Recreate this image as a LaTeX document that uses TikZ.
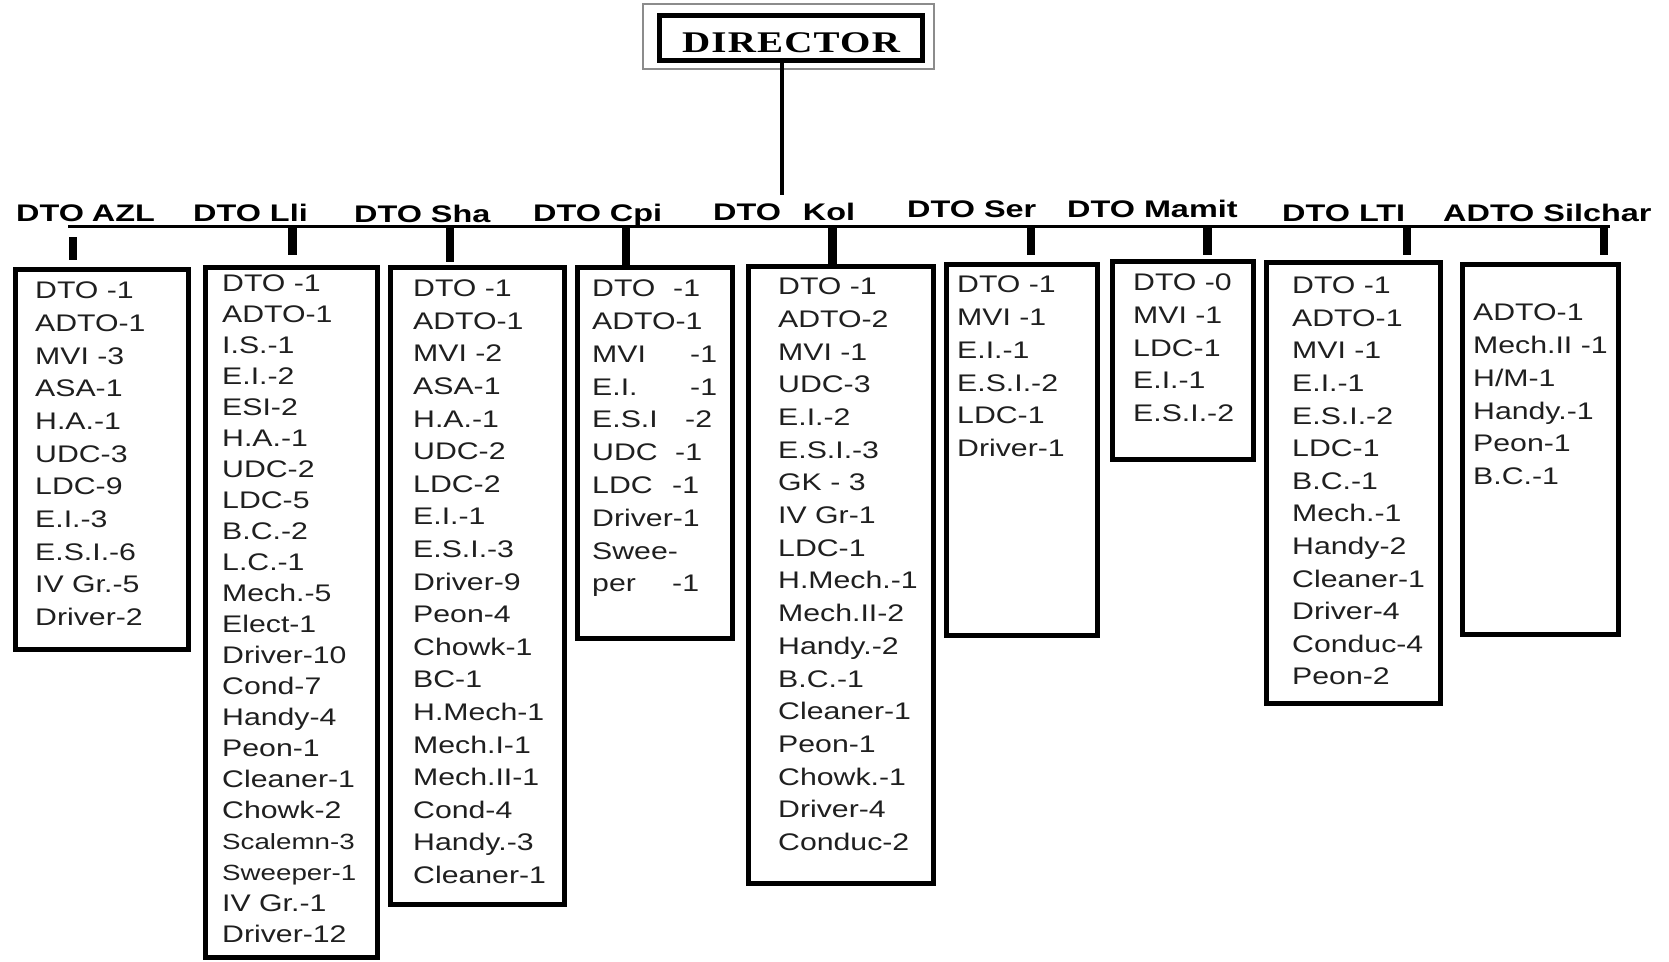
\documentclass[tikz,border=0pt]{standalone}
\usepackage{fontspec}
\setmainfont{Liberation Sans}
\newfontfamily\boxfont[FakeStretch=1.26]{Liberation Sans}
\newfontfamily\lblfont[FakeStretch=1.35]{Liberation Sans}
\newfontfamily\dirfont[FakeStretch=1.3,LetterSpace=4]{Liberation Serif}
\begin{document}
\begin{tikzpicture}[x=1pt,y=-1pt,
  box/.style={draw=black, line width=5pt, inner sep=0pt, rectangle},
  item/.style={font=\boxfont\fontsize{24}{24}\selectfont, text=black!88, anchor=base west, inner sep=0pt},
  smallitem/.style={item, font=\boxfont\fontsize{22}{22}\selectfont},
  lbl/.style={font=\lblfont\bfseries\fontsize{24}{24}\selectfont, anchor=base west, inner sep=0pt},
  barline/.style={line width=3.5pt},
  stub/.style={line width=8.5pt},
  conn/.style={line width=3.5pt}]
\useasboundingbox (0,0) rectangle (1669,961);
% director
\node[draw=black!45, line width=1.5pt, minimum width=291pt, minimum height=65pt, inner sep=0pt] (dirframe) at (788.5,36.5) {};
\node[box, minimum width=263pt, minimum height=45pt, text height=28pt, text depth=0pt,
      font=\dirfont\bfseries\fontsize{30}{30}\selectfont] (dir) at (791,38) {DIRECTOR};
% labels
\node[lbl] (lAZL) at (16,221) {DTO\hspace{8pt}AZL};
\node[lbl] (lLli) at (193,221) {DTO Lli};
\node[lbl] (lSha) at (354,222) {DTO Sha};
\node[lbl] (lCpi) at (533,221) {DTO Cpi};
\node[lbl] (lKol) at (713,220) {DTO\hspace{22pt}Kol};
\node[lbl] (lSer) at (907,217) {DTO Ser};
\node[lbl] (lMam) at (1067,217) {DTO Mamit};
\node[lbl] (lLTI) at (1282,221) {DTO LTI};
\node[lbl] (lSil) at (1443,221) {ADTO Silchar};
% director connector
\coordinate (kolgap) at (782,195);
\draw[conn] (dir.south -| kolgap) -- (kolgap);
% bar
\coordinate (barL) at (68,226.5);
\coordinate (barR) at (1610,226.5);
\draw[barline] (barL) -- (barR);
% boxes
\node[box, minimum width=173pt, minimum height=380pt] (b1) at (102,459.5) {};
\node[box, minimum width=172pt, minimum height=690pt] (b2) at (291.5,612.5) {};
\node[box, minimum width=174pt, minimum height=637pt] (b3) at (477.5,586) {};
\node[box, minimum width=155pt, minimum height=371pt] (b4) at (655,453) {};
\node[box, minimum width=185pt, minimum height=617pt] (b5) at (841,575) {};
\node[box, minimum width=151pt, minimum height=371pt] (b6) at (1022,450) {};
\node[box, minimum width=141pt, minimum height=198pt] (b7) at (1183,360.5) {};
\node[box, minimum width=174pt, minimum height=441pt] (b8) at (1353.5,483) {};
\node[box, minimum width=156pt, minimum height=370pt] (b9) at (1540.5,449.5) {};
% stubs
\coordinate (s1a) at (73,237);   \coordinate (s1b) at (73,260);
\coordinate (s2a) at (292.5,226.5); \coordinate (s2b) at (292.5,255);
\coordinate (s3a) at (450,226.5); \coordinate (s3b) at (450,262);
\coordinate (s4a) at (626,226.5);
\coordinate (s5a) at (832.5,226.5);
\coordinate (s6a) at (1031,226.5); \coordinate (s6b) at (1031,255);
\coordinate (s7a) at (1207.5,226.5); \coordinate (s7b) at (1207.5,255);
\coordinate (s8a) at (1407,226.5); \coordinate (s8b) at (1407,255);
\coordinate (s9a) at (1604,226.5); \coordinate (s9b) at (1604,255);
\draw[stub] (s1a) -- (s1b);
\draw[stub] (s2a) -- (s2b);
\draw[stub] (s3a) -- (s3b);
\draw[stub] (s4a) -- (s4a |- b4.north);
\draw[stub] (s5a) -- (s5a |- b5.north);
\draw[stub] (s6a) -- (s6b);
\draw[stub] (s7a) -- (s7b);
\draw[stub] (s8a) -- (s8b);
\draw[stub] (s9a) -- (s9b);
% box 1
\foreach \t [count=\i] in {DTO -1,ADTO-1,MVI -3,ASA-1,H.A.-1,UDC-3,LDC-9,E.I.-3,E.S.I.-6,IV Gr.-5,Driver-2}
  \node[item] (a\i) at (35,{298.6+(\i-1)*32.7}) {\t};
% box 2
\foreach \t [count=\i] in {DTO -1,ADTO-1,I.S.-1,E.I.-2,ESI-2,H.A.-1,UDC-2,LDC-5,B.C.-2,L.C.-1,Mech.-5,Elect-1,Driver-10,Cond-7,Handy-4,Peon-1,Cleaner-1,Chowk-2}
  \node[item] (bb\i) at (222,{291.6+(\i-1)*31.0}) {\t};
\node[smallitem] (bb19) at (222,{291.6+18*31.0}) {Scalemn-3};
\node[smallitem] (bb20) at (222,{291.6+19*31.0}) {Sweeper-1};
\node[item] (bb21) at (222,{291.6+20*31.0}) {IV Gr.-1};
\node[item] (bb22) at (222,{291.6+21*31.0}) {Driver-12};
% box 3
\foreach \t [count=\i] in {DTO -1,ADTO-1,MVI -2,ASA-1,H.A.-1,UDC-2,LDC-2,E.I.-1,E.S.I.-3,Driver-9,Peon-4,Chowk-1,BC-1,H.Mech-1,Mech.I-1,Mech.II-1,Cond-4,Handy.-3,Cleaner-1}
  \node[item] (c\i) at (413,{296.6+(\i-1)*32.6}) {\t};
% box 4
\node[item] (d1) at (592,296.6) {DTO};      \node[item] (d1n) at (673,296.6) {-1};
\node[item] (d2) at (592,329.4) {ADTO-1};
\node[item] (d3) at (592,362.2) {MVI};      \node[item] (d3n) at (690,362.2) {-1};
\node[item] (d4) at (592,395.0) {E.I.};     \node[item] (d4n) at (690,395.0) {-1};
\node[item] (d5) at (592,427.8) {E.S.I};    \node[item] (d5n) at (685,427.8) {-2};
\node[item] (d6) at (592,460.6) {UDC};      \node[item] (d6n) at (675,460.6) {-1};
\node[item] (d7) at (592,493.4) {LDC};      \node[item] (d7n) at (672,493.4) {-1};
\node[item] (d8) at (592,526.2) {Driver-1};
\node[item] (d9) at (592,559.0) {Swee-};
\node[item] (d10) at (592,591.8) {per};     \node[item] (d10n) at (672,591.8) {-1};
% box 5
\foreach \t [count=\i] in {DTO -1,ADTO-2,MVI -1,UDC-3,E.I.-2,E.S.I.-3,GK - 3,IV Gr-1,LDC-1,H.Mech.-1,Mech.II-2,Handy.-2,B.C.-1,Cleaner-1,Peon-1,Chowk.-1,Driver-4,Conduc-2}
  \node[item] (e\i) at (778,{294.6+(\i-1)*32.7}) {\t};
% box 6
\foreach \t [count=\i] in {DTO -1,MVI -1,E.I.-1,E.S.I.-2,LDC-1,Driver-1}
  \node[item] (f\i) at (957,{292.6+(\i-1)*32.8}) {\t};
% box 7
\foreach \t [count=\i] in {DTO -0,MVI -1,LDC-1,E.I.-1,E.S.I.-2}
  \node[item] (g\i) at (1133,{290.6+(\i-1)*32.7}) {\t};
% box 8
\foreach \t [count=\i] in {DTO -1,ADTO-1,MVI -1,E.I.-1,E.S.I.-2,LDC-1,B.C.-1,Mech.-1,Handy-2,Cleaner-1,Driver-4,Conduc-4,Peon-2}
  \node[item] (h\i) at (1292,{293.6+(\i-1)*32.6}) {\t};
% box 9
\foreach \t [count=\i] in {ADTO-1,Mech.II -1,H/M-1,Handy.-1,Peon-1,B.C.-1}
  \node[item] (k\i) at (1473,{320.6+(\i-1)*32.8}) {\t};
\end{tikzpicture}
\end{document}
